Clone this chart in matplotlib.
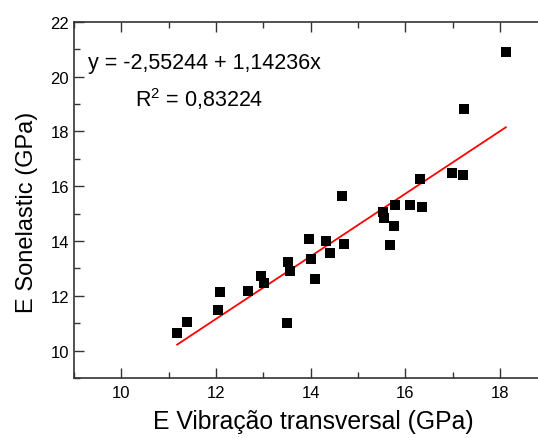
import matplotlib
matplotlib.use("Agg")
import matplotlib.pyplot as plt
import numpy as np
from matplotlib.ticker import MultipleLocator

plt.rcParams['font.family'] = ['Liberation Sans', 'DejaVu Sans']
plt.rcParams['mathtext.fontset'] = 'custom'
plt.rcParams['mathtext.rm'] = 'Liberation Sans'

# E from transverse vibration (GPa) vs E from Sonelastic (GPa)
e_vib = [11.18, 11.39, 12.04, 12.08, 12.68, 12.96, 13.02, 13.49, 13.52, 13.56,
         13.97, 14.00, 14.08, 14.33, 14.40, 14.67, 14.71, 15.52, 15.54, 15.68,
         15.75, 15.78, 16.09, 16.36, 16.31, 16.98, 17.21, 17.24, 18.12]
e_sonel = [10.64, 11.05, 11.49, 12.13, 12.17, 12.73, 12.45, 11.01, 13.24, 12.90,
           14.07, 13.34, 12.63, 13.99, 13.57, 15.64, 13.88, 15.04, 14.84, 13.87,
           14.55, 15.33, 15.33, 15.24, 16.27, 16.47, 16.41, 18.81, 20.89]

# linear fit parameters as printed on the chart
intercept = -2.55244
slope = 1.14236
r2 = 0.83224

fig = plt.figure(figsize=(5.38, 4.39), dpi=100)
ax = fig.add_axes([0.1375, 0.1367, 0.8625, 0.8116])

ax.scatter(e_vib, e_sonel, marker='s', s=58, color='black', zorder=3, linewidths=0)

# fitted line over the data range
xfit = np.array([min(e_vib), max(e_vib)])
ax.plot(xfit, intercept + slope * xfit, color='red', lw=1.3, zorder=2)

ax.set_xlim(9, 18.8)
ax.set_ylim(9, 22)
ax.xaxis.set_major_locator(MultipleLocator(2))
ax.xaxis.set_minor_locator(MultipleLocator(1))
ax.yaxis.set_major_locator(MultipleLocator(2))
ax.yaxis.set_minor_locator(MultipleLocator(1))
ax.tick_params(which='both', direction='in', top=True, right=False,
               labelsize=12, width=1, color='#333333')
ax.tick_params(which='major', length=7)
ax.tick_params(which='minor', length=4)
ax.tick_params(axis='x', pad=5)
ax.spines['right'].set_visible(False)
for s in ['left', 'bottom', 'top']:
    ax.spines[s].set_linewidth(1.2)
    ax.spines[s].set_color('#333333')

ax.set_xlabel('E Vibração transversal (GPa)', fontsize=17.8)
ax.set_ylabel('E Sonelastic (GPa)', fontsize=17)
ax.xaxis.set_label_coords(0.515, -0.086)
ax.xaxis.label.set_va('top')
ax.yaxis.set_label_coords(-0.078, 0.469)

ax.text(0.03, 0.885, 'y = -2,55244 + 1,14236x', transform=ax.transAxes,
        fontsize=15.5, va='center', ha='left')
ax.text(0.131, 0.787, 'R$^{2}$ = 0,83224', transform=ax.transAxes,
        fontsize=15.5, va='center', ha='left')

fig.savefig('out.png', dpi=100)
